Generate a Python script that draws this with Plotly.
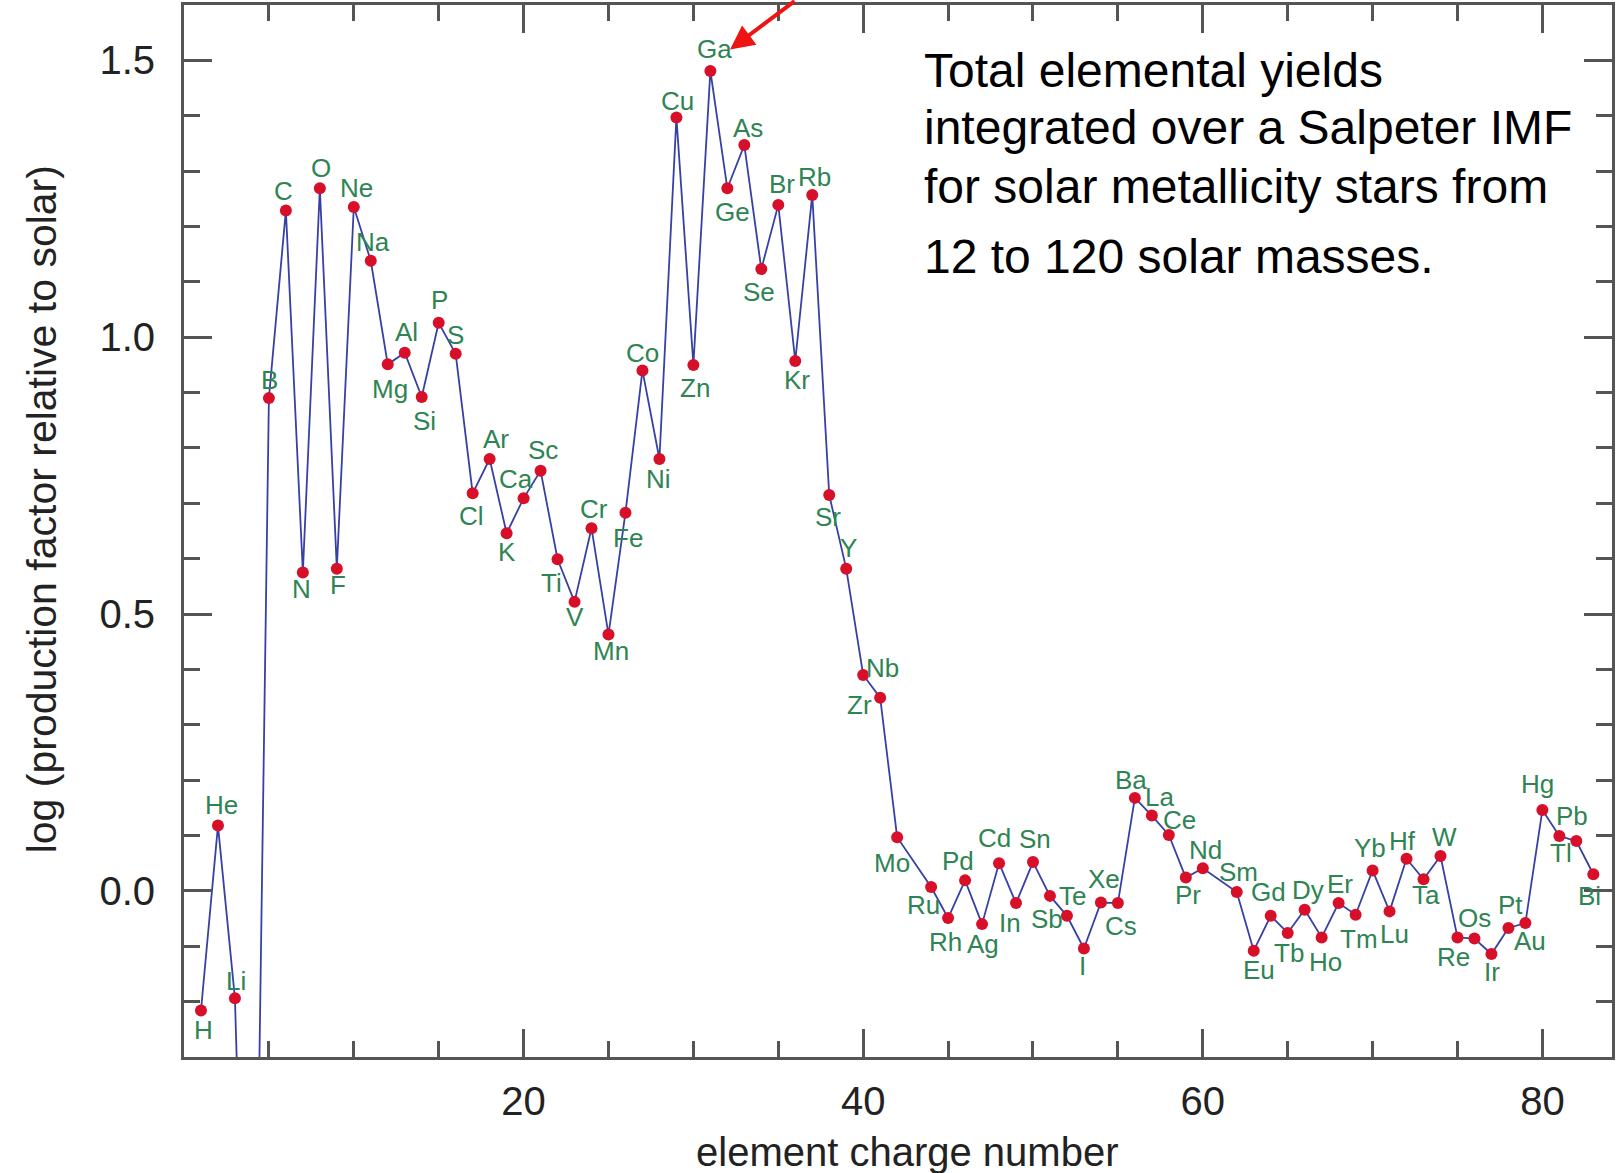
import plotly.graph_objects as go

# ---------------- data ----------------
symbols = ["H","He","Li","Be","B","C","N","O","F","Ne","Na","Mg","Al","Si","P","S","Cl","Ar","K","Ca",
           "Sc","Ti","V","Cr","Mn","Fe","Co","Ni","Cu","Zn","Ga","Ge","As","Se","Br","Kr","Rb","Sr","Y","Zr",
           "Nb","Mo","Ru","Rh","Pd","Ag","Cd","In","Sn","Sb","Te","I","Xe","Cs","Ba","La","Ce","Pr","Nd","Sm",
           "Eu","Gd","Tb","Dy","Ho","Er","Tm","Yb","Lu","Hf","Ta","W","Re","Os","Ir","Pt","Au","Hg","Tl","Pb","Bi"]
charge = list(range(1, 43)) + list(range(44, 61)) + list(range(62, 84))
log_pf = [-0.216, 0.118, -0.194, -1.25, 0.890, 1.229, 0.575, 1.269, 0.582, 1.235,
          1.138, 0.951, 0.972, 0.892, 1.026, 0.970, 0.718, 0.780, 0.646, 0.709,
          0.759, 0.599, 0.522, 0.655, 0.463, 0.683, 0.940, 0.780, 1.397, 0.950,
          1.481, 1.269, 1.347, 1.123, 1.239, 0.957, 1.257, 0.715, 0.582, 0.390,
          0.349, 0.097, 0.007, -0.049, 0.019, -0.060, 0.050, -0.022, 0.052, -0.009,
          -0.045, -0.104, -0.021, -0.022, 0.168, 0.136, 0.101, 0.024, 0.041, -0.002,
          -0.108, -0.045, -0.076, -0.034, -0.084, -0.022, -0.043, 0.037, -0.037, 0.058,
          0.021, 0.063, -0.084, -0.086, -0.114, -0.067, -0.058, 0.146, 0.099, 0.090, 0.030]
x_ticks = [20, 40, 60, 80]
y_ticks = [0.0, 0.5, 1.0, 1.5]
note_lines = ["Total elemental yields", "integrated over a Salpeter IMF",
              "for solar metallicity stars from", "12 to 120 solar masses."]

# label offsets (pixels, dx right, dy down) relative to each point
label_offset = {
    "H": (2, 19), "He": (3, -20), "Li": (1, -17), "B": (1, -18), "C": (-2, -19), "N": (-1, 16),
    "O": (1, -20), "F": (1, 16), "Ne": (3, -19), "Na": (2, -18), "Mg": (2, 24), "Al": (2, -20),
    "Si": (3, 23), "P": (1, -22), "S": (0, -18), "Cl": (-1, 22), "Ar": (6, -19), "K": (0, 18),
    "Ca": (-7, -19), "Sc": (2, -20), "Ti": (-6, 23), "V": (0, 15), "Cr": (2, -19), "Mn": (2, 16),
    "Fe": (2, 25), "Co": (0, -17), "Ni": (-1, 19), "Cu": (1, -16), "Zn": (2, 22), "Ga": (4, -21),
    "Ge": (5, 23), "As": (4, -17), "Se": (-2, 22), "Br": (4, -20), "Kr": (2, 18), "Rb": (2, -17),
    "Sr": (-1, 21), "Y": (2, -20), "Zr": (-4, 29), "Nb": (2, -29), "Mo": (-5, 25), "Ru": (-7, 17),
    "Rh": (-3, 23), "Pd": (-7, -19), "Ag": (1, 19), "Cd": (-4, -24), "In": (-6, 19), "Sn": (2, -22),
    "Sb": (-3, 22), "Te": (5, -19), "I": (-1, 17), "Xe": (3, -23), "Cs": (3, 22), "Ba": (-4, -17),
    "La": (7, -18), "Ce": (10, -15), "Pr": (2, 17), "Nd": (3, -18), "Sm": (2, -19), "Eu": (5, 19),
    "Gd": (-2, -23), "Tb": (1, 19), "Dy": (3, -19), "Ho": (4, 24), "Er": (1, -19), "Tm": (3, 24),
    "Yb": (-3, -22), "Lu": (5, 22), "Hf": (-4, -17), "Ta": (2, 15), "W": (4, -18), "Re": (-4, 19),
    "Os": (0, -20), "Ir": (1, 17), "Pt": (2, -22), "Au": (4, 17), "Hg": (-5, -25), "Tl": (2, 16),
    "Pb": (-4, -24), "Bi": (-4, 21),
}

FONT = "Liberation Sans, Arial, Helvetica, sans-serif"
GREEN = "#2e8452"
AXIS = "#555555"

fig = go.Figure()
fig.add_trace(go.Scatter(
    x=charge, y=log_pf, mode="lines+markers",
    line=dict(color="rgb(55,65,165)", width=1.8),
    marker=dict(color="rgb(215,15,40)", size=12),
    cliponaxis=True, showlegend=False, hoverinfo="skip"))

annotations = []
for sym, z, v in zip(symbols, charge, log_pf):
    if sym not in label_offset:
        continue
    dx, dy = label_offset[sym]
    annotations.append(dict(x=z, y=v, xref="x", yref="y", text=sym, showarrow=False,
                            xanchor="center", yanchor="middle",
                            xshift=dx * 1.03, yshift=-dy * 1.03,
                            font=dict(family=FONT, size=26, color=GREEN)))

# note text
note_y = [0.9382, 0.8833, 0.8273, 0.7608]
for line, yy in zip(note_lines, note_y):
    annotations.append(dict(x=0.5166, y=yy, xref="paper", yref="paper", text=line,
                            showarrow=False, xanchor="left", yanchor="middle",
                            font=dict(family=FONT, size=48, color="black")))

# red arrow pointing to Ga
annotations.append(dict(x=32.16, y=1.5196, xref="x", yref="y", text="", showarrow=True,
                        ax=66, ay=-54, arrowhead=2, arrowsize=1.2, arrowwidth=4,
                        arrowcolor="rgb(238,20,20)", standoff=0))

# axis titles
annotations.append(dict(x=0.5065, y=-0.0903, xref="paper", yref="paper",
                        xanchor="center", yanchor="middle",
                        text="element charge number", showarrow=False,
                        font=dict(family=FONT, size=40, color="#222")))
annotations.append(dict(x=-0.0996, y=0.5204, xref="paper", yref="paper",
                        xanchor="center", yanchor="middle",
                        text="log (production factor relative to solar)", showarrow=False,
                        textangle=-90, font=dict(family=FONT, size=41, color="#222")))

axis_common = dict(ticks="inside", ticklen=28, tickwidth=2.5, tickcolor=AXIS,
                   showline=True, linecolor=AXIS, linewidth=3, mirror="ticks",
                   showgrid=False, zeroline=False,
                   tickfont=dict(family=FONT, size=40, color="#222"))

fig.update_layout(
    width=1617, height=1173,
    margin=dict(l=184, r=2, t=5, b=116),
    paper_bgcolor="white", plot_bgcolor="white",
    annotations=annotations,
    xaxis=dict(range=[0, 84.1], tickmode="array", tickvals=x_ticks,
               ticktext=[str(t) for t in x_ticks], ticklabelstandoff=7,
               minor=dict(dtick=5, tick0=0, ticks="inside", ticklen=16, tickwidth=2.5,
                          tickcolor=AXIS, showgrid=False),
               **axis_common),
    yaxis=dict(range=[-0.3, 1.6], tickmode="array", tickvals=y_ticks,
               ticktext=[f"{t:.1f}" for t in y_ticks], ticklabelstandoff=18,
               minor=dict(dtick=0.1, tick0=0, ticks="inside", ticklen=16, tickwidth=2.5,
                          tickcolor=AXIS, showgrid=False),
               **axis_common),
)

fig.write_html("out.html", config={"displayModeBar": False},
               post_script="document.body.style.margin='0';document.body.style.overflow='hidden';")
